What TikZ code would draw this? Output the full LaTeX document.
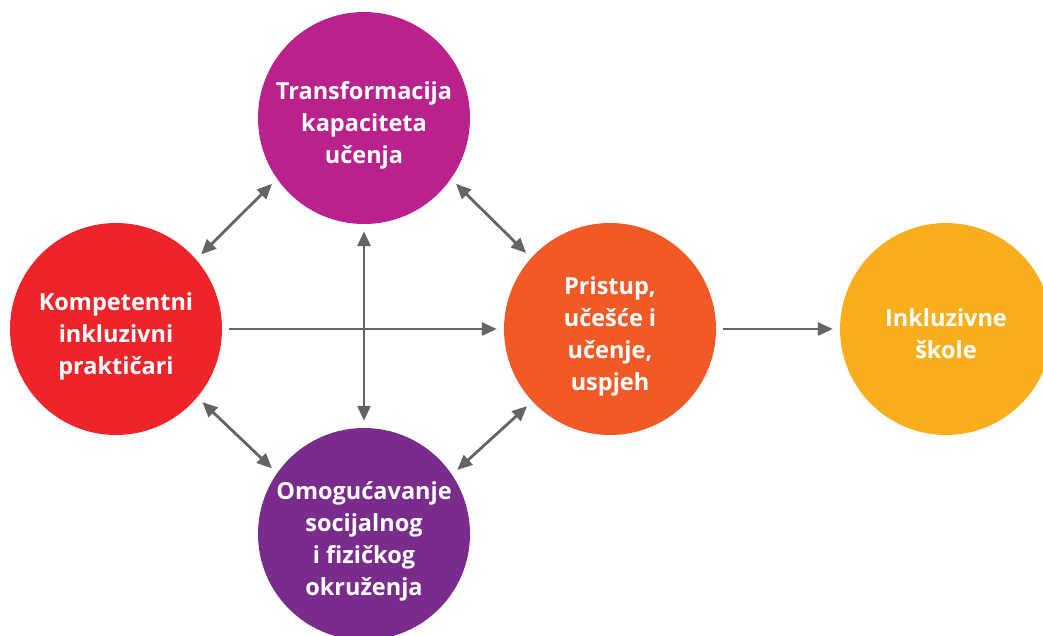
\documentclass[tikz,border=0pt]{standalone}
\usepackage{fontspec}
\setmainfont{Open Sans}
\usepackage{tikz}
\usetikzlibrary{arrows.meta}

\definecolor{transcol}{HTML}{B9218C}
\definecolor{kompcol}{HTML}{EE242B}
\definecolor{pristcol}{HTML}{F15A27}
\definecolor{inklcol}{HTML}{F9AE1E}
\definecolor{omogcol}{HTML}{7A2C8C}
\definecolor{linkcol}{HTML}{636466}

% fixed first-line height and last-line depth, so every text block sits alike
\newcommand\bubtext[1]{\rule{0pt}{33pt}#1\rule[-7pt]{0pt}{7pt}}

\begin{document}
\begin{tikzpicture}[x=1pt, y=-1pt,
  bubble/.style={circle, minimum size=212pt, inner sep=-20pt, text=white, align=center,
    font=\fontsize{23.5}{32}\selectfont\bfseries},
  link/.style={draw=linkcol, line width=2.8pt, shorten <=7pt, shorten >=7pt},
  tip/.style={-{Triangle[length=15pt, width=13pt]}},
  tips/.style={{Triangle[length=15pt, width=13pt]}-{Triangle[length=15pt, width=13pt]}}]
\useasboundingbox (0, 0) rectangle (1043, 635);

\node (tra) at (364, 118) [bubble, fill=transcol] {\bubtext{Transformacija\\kapaciteta\\učenja}};
\node (kom) at (116, 329) [bubble, fill=kompcol] {\bubtext{Kompetentni\\inkluzivni\\praktičari}};
\node (pri) at (610, 329) [bubble, fill=pristcol] {\bubtext{Pristup,\\učešće i\\učenje,\\uspjeh}};
\node (ink) at (946, 329) [bubble, fill=inklcol] {\bubtext{Inkluzivne\\škole}};
\node (omo) at (364, 534) [bubble, fill=omogcol] {\bubtext{Omogućavanje\\socijalnog\\i fizičkog\\okruženja}};

\draw [link, tips] (kom.41) -- (tra.215);
\draw [link, tips] (tra.325) -- (pri.138);
\draw [link, tips] (kom.320) -- (omo.145);
\draw [link, tips] (omo.34) -- (pri.223);
\draw [link, tips] (tra) -- (omo);
\draw [link, tip] (kom) -- (pri);
\draw [link, tip] (pri) -- (ink);
\end{tikzpicture}
\end{document}
